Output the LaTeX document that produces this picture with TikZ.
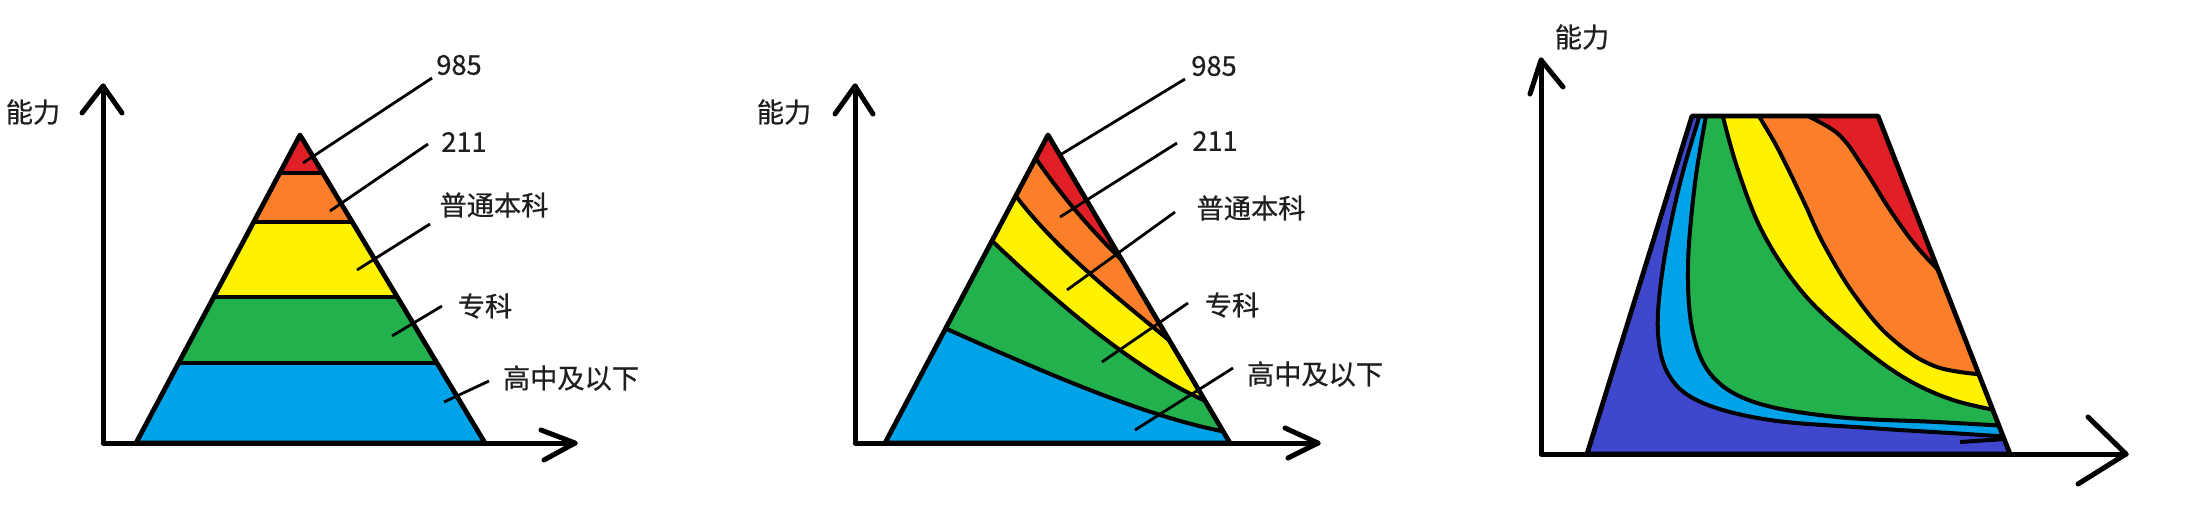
\documentclass[tikz,border=0pt]{standalone}
\usepackage{fontspec}
\setmainfont{Noto Sans CJK SC}[FakeBold=0.6]
\definecolor{pRed}{HTML}{E01F26}
\definecolor{pOrange}{HTML}{FB7F2A}
\definecolor{pYellow}{HTML}{FFF200}
\definecolor{pGreen}{HTML}{22B14C}
\definecolor{pBlue}{HTML}{00A2E8}
\definecolor{pIndigo}{HTML}{3F48CC}
\begin{document}
\begin{tikzpicture}[x=0.5pt,y=-0.5pt,
  axis/.style={line width=2.5pt,line cap=round,line join=round},
  band/.style={line width=2pt},
  edge/.style={line width=2.4pt,line join=round},
  leader/.style={line width=1.4pt},
  lbl/.style={font=\fontsize{13.6pt}{16pt}\selectfont,text=black!88,inner sep=0pt},
  smoothc/.style={smooth,tension=0.6}]
\useasboundingbox[fill=white] (0,0) rectangle (2199,521);

% ================= Panel 1 =================
\coordinate (A1) at (300,135);
\coordinate (L1) at (136,443);
\coordinate (R1) at (485,443);
\begin{scope}
  \clip (A1) -- (L1) -- (R1) -- cycle;
  \fill[pRed] (100,100) rectangle (520,173);
  \fill[pOrange] (100,173) rectangle (520,222);
  \fill[pYellow] (100,222) rectangle (520,297);
  \fill[pGreen] (100,297) rectangle (520,363);
  \fill[pBlue] (100,363) rectangle (520,450);
  \draw[band] (100,173) -- (520,173);
  \draw[band] (100,222) -- (520,222);
  \draw[band] (100,297) -- (520,297);
  \draw[band] (100,363) -- (520,363);
\end{scope}
\draw[edge] (A1) -- (L1) -- (R1) -- cycle;

\coordinate (O1) at (103,443);
\coordinate (Y1) at (103,86);
\coordinate (X1) at (575,443);
\draw[axis] (Y1) -- (O1) -- (X1);
\draw[axis] (82,113) -- (Y1) -- (122,113);
\draw[axis] (541,430) -- (X1) -- (544,460);
\node[lbl] (ab1) at (33,112) {能力};

\node[lbl] (t1a) at (459,65) {985};
\node[lbl] (t1b) at (464,142) {211};
\node[lbl] (t1c) at (494,205) {普通本科};
\node[lbl] (t1d) at (485,306) {专科};
\node[lbl] (t1e) at (571,378) {高中及以下};
\coordinate (p1a) at (303,163); \coordinate (q1a) at (432,78);
\coordinate (p1b) at (330,211); \coordinate (q1b) at (428,144);
\coordinate (p1c) at (357,270); \coordinate (q1c) at (430,224);
\coordinate (p1d) at (392,336); \coordinate (q1d) at (442,306);
\coordinate (p1e) at (444,402); \coordinate (q1e) at (489,381);
\draw[leader] (p1a) -- (q1a);
\draw[leader] (p1b) -- (q1b);
\draw[leader] (p1c) -- (q1c);
\draw[leader] (p1d) -- (q1d);
\draw[leader] (p1e) -- (q1e);

% ================= Panel 2 =================
\coordinate (A2) at (1048,135);
\coordinate (L2) at (885,443);
\coordinate (R2) at (1230,443);
\begin{scope}
  \clip (A2) -- (L2) -- (R2) -- cycle;
  \fill[pBlue] (850,100) rectangle (1260,450);
  \fill[pGreen] (940,326) .. controls (1035,368) and (1145,418) .. (1232,433)
     -- (1260,433) -- (1260,100) -- (900,100) -- (900,326) -- cycle;
  \fill[pYellow] (985,234) .. controls (1045,292) and (1135,373) .. (1215,405)
     -- (1260,405) -- (1260,100) -- (900,100) -- (900,234) -- cycle;
  \fill[pOrange] (1010,188) .. controls (1052,247) and (1118,298) .. (1176,346)
     -- (1260,346) -- (1260,100) -- (900,100) -- (900,188) -- cycle;
  \fill[pRed] (1030,150) .. controls (1060,195) and (1095,235) .. (1132,270)
     -- (1260,270) -- (1260,100) -- (900,100) -- (900,150) -- cycle;
  \draw[band] (940,326) .. controls (1035,368) and (1145,418) .. (1232,433);
  \draw[band] (985,234) .. controls (1045,292) and (1135,373) .. (1215,405);
  \draw[band] (1010,188) .. controls (1052,247) and (1118,298) .. (1176,346);
  \draw[band] (1030,150) .. controls (1060,195) and (1095,235) .. (1132,270);
\end{scope}
\draw[edge] (A2) -- (L2) -- (R2) -- cycle;

\coordinate (O2) at (855,443);
\coordinate (Y2) at (855,86);
\coordinate (X2) at (1318,443);
\draw[axis] (Y2) -- (O2) -- (X2);
\draw[axis] (835,114) -- (Y2) -- (873,114);
\draw[axis] (1285,428) -- (X2) -- (1288,458);
\node[lbl] (ab2) at (784,112) {能力};

\node[lbl] (t2a) at (1214,66) {985};
\node[lbl] (t2b) at (1215,141) {211};
\node[lbl] (t2c) at (1251,208) {普通本科};
\node[lbl] (t2d) at (1232,305) {专科};
\node[lbl] (t2e) at (1315,374) {高中及以下};
\coordinate (p2a) at (1060,155); \coordinate (q2a) at (1185,79);
\coordinate (p2b) at (1060,217); \coordinate (q2b) at (1177,143);
\coordinate (p2c) at (1067,290); \coordinate (q2c) at (1175,212);
\coordinate (p2d) at (1102,362); \coordinate (q2d) at (1188,303);
\coordinate (p2e) at (1135,430); \coordinate (q2e) at (1233,368);
\draw[leader] (p2a) -- (q2a);
\draw[leader] (p2b) -- (q2b);
\draw[leader] (p2c) -- (q2c);
\draw[leader] (p2d) -- (q2d);
\draw[leader] (p2e) -- (q2e);

% ================= Panel 3 =================
\coordinate (TL3) at (1692,116);
\coordinate (TR3) at (1878,116);
\coordinate (BR3) at (2010,454);
\coordinate (BL3) at (1587,454);
\begin{scope}
  \clip (TL3) -- (TR3) -- (BR3) -- (BL3) -- cycle;
  \fill[pIndigo] (1560,100) rectangle (2040,460);
  \fill[pBlue] plot[smoothc] coordinates {(1703,105) (1680,183) (1663,267) (1658,333) (1670,377) (1703,403) (1770,420) (1870,428) (1950,433) (2030,438)}
     -- (2100,438) -- (2100,50) -- (1703,50) -- cycle;
  \fill[pGreen] plot[smoothc] coordinates {(1708,105) (1695,183) (1688,267) (1693,333) (1713,377) (1757,403) (1837,417) (1937,422) (2025,427)}
     -- (2100,427) -- (2100,50) -- (1708,50) -- cycle;
  \fill[pYellow] plot[smoothc] coordinates {(1720,105) (1737,167) (1763,233) (1803,293) (1853,340) (1903,377) (1953,400) (2010,413)}
     -- (2100,413) -- (2100,50) -- (1720,50) -- cycle;
  \fill[pOrange] plot[smoothc] coordinates {(1752,105) (1777,147) (1803,200) (1823,243) (1853,293) (1890,337) (1937,367) (2000,376)}
     -- (2100,376) -- (2100,50) -- (1752,50) -- cycle;
  \fill[pRed] plot[smoothc] coordinates {(1795,110) (1837,133) (1863,167) (1890,210) (1917,247) (1950,282)}
     -- (2100,282) -- (2100,50) -- (1795,50) -- cycle;
  \draw[band] plot[smoothc] coordinates {(1703,105) (1680,183) (1663,267) (1658,333) (1670,377) (1703,403) (1770,420) (1870,428) (1950,433) (2030,438)};
  \draw[band] plot[smoothc] coordinates {(1708,105) (1695,183) (1688,267) (1693,333) (1713,377) (1757,403) (1837,417) (1937,422) (2025,427)};
  \draw[band] plot[smoothc] coordinates {(1720,105) (1737,167) (1763,233) (1803,293) (1853,340) (1903,377) (1953,400) (2010,413)};
  \draw[band] plot[smoothc] coordinates {(1752,105) (1777,147) (1803,200) (1823,243) (1853,293) (1890,337) (1937,367) (2000,376)};
  \draw[band] plot[smoothc] coordinates {(1795,110) (1837,133) (1863,167) (1890,210) (1917,247) (1950,282)};
  \draw[band] (1960,442) -- (2005,439);
\end{scope}
\draw[edge] (TL3) -- (TR3) -- (BR3) -- (BL3) -- cycle;

\coordinate (O3) at (1541,454);
\coordinate (Y3) at (1541,60);
\coordinate (X3) at (2126,454);
\draw[axis] (Y3) -- (O3) -- (X3);
\draw[axis] (1530,94) -- (Y3) -- (1563,87);
\draw[axis] (2088,417) -- (X3) -- (2078,484);
\node[lbl] (ab3) at (1582,37) {能力};
\end{tikzpicture}
\end{document}
